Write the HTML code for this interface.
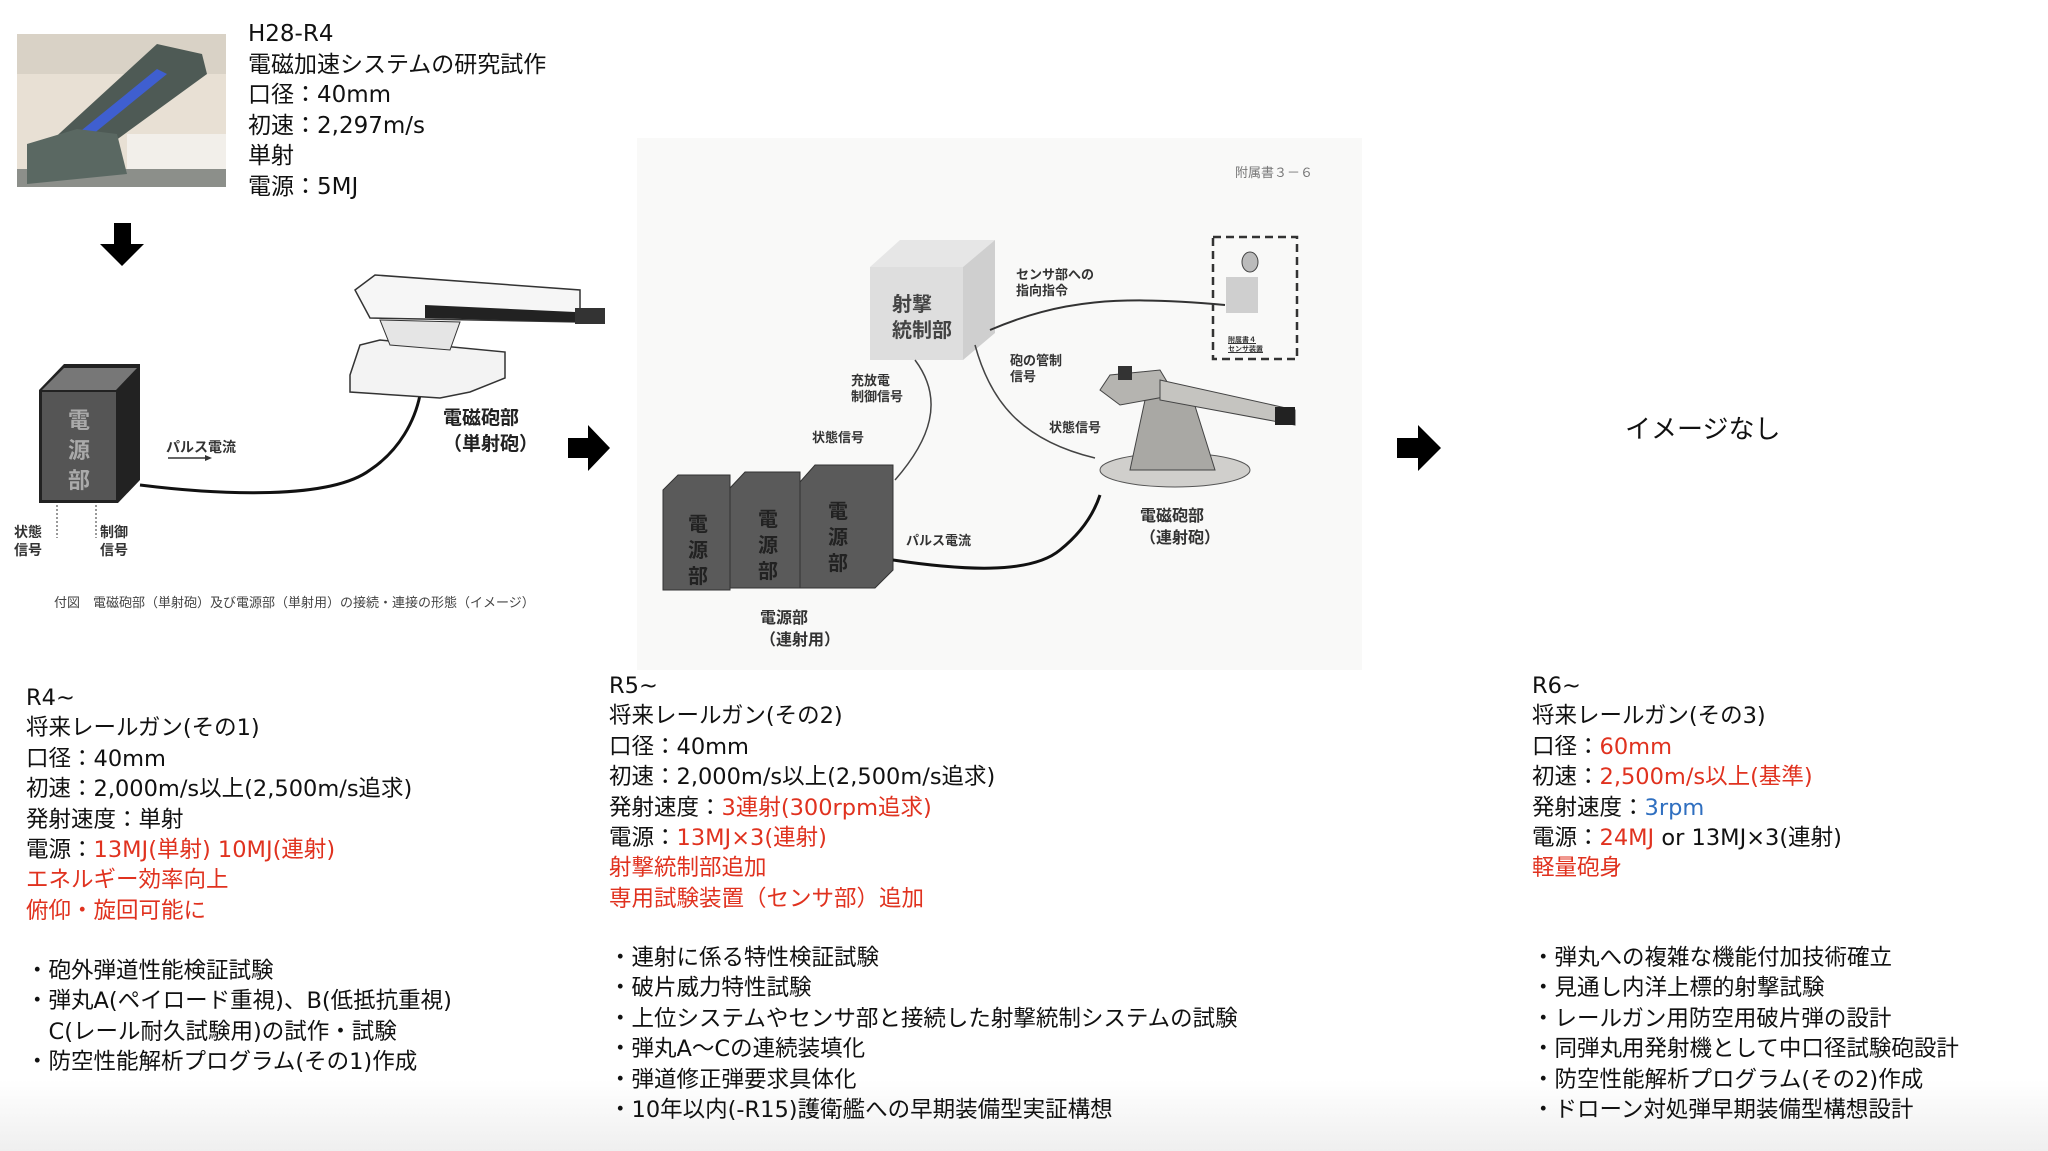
<!DOCTYPE html>
<html><head><meta charset="utf-8">
<style>
html,body{margin:0;padding:0;background:#fff;}
body{width:2048px;height:1151px;position:relative;overflow:hidden;font-family:"DejaVu Sans","Noto Sans CJK JP",sans-serif;color:#111;}
.t{position:absolute;font-size:23px;line-height:30.5px;white-space:nowrap;}
.b{position:absolute;font-size:22.5px;line-height:30.4px;white-space:nowrap;}
.r{color:#e0321f}.bl{color:#2f6fc0}
.s{position:absolute;white-space:nowrap;font-family:"Noto Sans CJK JP",sans-serif;font-weight:bold;color:#333;}
</style></head><body>
<div style="position:absolute;left:0;top:1080px;width:2048px;height:71px;background:linear-gradient(#fff,#efefef);"></div>
<!-- photo -->
<svg style="position:absolute;left:17px;top:34px" width="209" height="153" viewBox="0 0 209 153">
<rect width="209" height="153" fill="#e8e0d4"/>
<rect x="0" y="0" width="209" height="40" fill="#d9d2c6"/>
<rect x="110" y="100" width="99" height="45" fill="#f2efea"/>
<rect x="0" y="135" width="209" height="18" fill="#8c8f8a"/>
<polygon points="20,120 140,10 185,20 190,40 80,120" fill="#4e5a55"/>
<polygon points="60,100 140,35 150,40 70,105" fill="#3f5fd0"/>
<polygon points="10,150 10,110 60,95 100,100 110,140" fill="#5a6862"/>
</svg>
<div class="t" style="left:248px;top:19px">H28-R4<br>電磁加速システムの研究試作<br>口径：40mm<br>初速：2,297m/s<br>単射<br>電源：5MJ</div>
<!-- arrows -->
<svg style="position:absolute;left:0;top:0" width="2048" height="700">
<polygon points="114,223 131,223 131,244 144,244 122,266 100,244 114,244" fill="#000"/>
<polygon points="568,438 588,438 588,425 610,448 588,471 588,458 568,458" fill="#000"/>
<polygon points="1397,438 1418,438 1418,425 1441,448 1418,471 1418,458 1397,458" fill="#000"/>
<!-- left diagram -->
<polygon points="39,390 64,364 140,364 140,480 118,503 39,503" fill="#222"/>
<rect x="42" y="392" width="74" height="108" fill="#555"/>
<polygon points="42,390 64,368 137,368 116,390" fill="#777"/>
<path d="M140,485 C220,495 330,500 370,470 C400,450 415,420 420,395" stroke="#111" stroke-width="3" fill="none"/>
<line x1="168" y1="458" x2="205" y2="458" stroke="#333" stroke-width="1.5"/>
<polygon points="205,455 212,458 205,461" fill="#333"/>
<line x1="57" y1="505" x2="57" y2="538" stroke="#333" stroke-width="1" stroke-dasharray="2,2"/>
<line x1="96" y1="505" x2="96" y2="538" stroke="#333" stroke-width="1" stroke-dasharray="2,2"/>
<polygon points="350,375 360,345 380,340 505,352 505,378 470,392 440,398 350,392" fill="#f3f3f3" stroke="#333" stroke-width="1.5"/>
<polygon points="355,290 375,275 580,290 580,322 370,318" fill="#f6f6f6" stroke="#333" stroke-width="1.5"/>
<polygon points="425,305 575,312 575,322 425,318" fill="#222"/>
<rect x="575" y="308" width="30" height="16" fill="#333"/>
<polygon points="380,320 460,322 450,350 390,345" fill="#e5e5e5" stroke="#333"/>
<!-- middle diagram -->
<rect x="637" y="138" width="725" height="532" fill="#f9f9f8"/>
<polygon points="870,267 900,240 995,240 963,267" fill="#e6e6e6"/>
<polygon points="963,267 995,240 995,333 963,360" fill="#cfcfcf"/>
<rect x="870" y="267" width="93" height="93" fill="#dedede"/>
<rect x="1213" y="237" width="84" height="122" fill="none" stroke="#333" stroke-width="2.5" stroke-dasharray="8,5"/>
<rect x="1226" y="277" width="32" height="36" fill="#cfcfcf"/>
<ellipse cx="1250" cy="262" rx="8" ry="10" fill="#bbb" stroke="#444"/>
<path d="M990,330 C1060,300 1120,295 1225,305" stroke="#333" stroke-width="2" fill="none"/>
<path d="M975,345 C990,400 1020,440 1095,458" stroke="#444" stroke-width="1.5" fill="none"/>
<path d="M915,360 C945,400 930,440 895,480" stroke="#444" stroke-width="1.5" fill="none"/>
<g fill="#5a5a5a" stroke="#333">
<polygon points="663,490 678,475 730,475 730,590 663,590"/>
<polygon points="730,488 745,472 800,472 800,588 730,588"/>
<polygon points="800,482 815,465 893,465 893,570 875,588 800,588"/>
</g>
<path d="M893,560 C960,570 1030,575 1060,550 C1085,530 1095,510 1100,495" stroke="#111" stroke-width="3" fill="none"/>
<ellipse cx="1175" cy="470" rx="75" ry="17" fill="#d0cfcc" stroke="#555"/>
<polygon points="1130,470 1145,400 1190,390 1215,470" fill="#a9a8a4" stroke="#444"/>
<polygon points="1100,390 1110,375 1160,370 1175,395 1120,405" fill="#b5b4b0" stroke="#444"/>
<polygon points="1160,380 1295,410 1295,425 1160,400" fill="#c5c4c0" stroke="#444"/>
<rect x="1118" y="366" width="14" height="14" fill="#333"/>
<rect x="1275" y="407" width="20" height="18" fill="#222"/>
</svg>
<div class="s" style="left:443px;top:404px;font-size:19px;line-height:26px;color:#222">電磁砲部<br>（単射砲）</div>
<div class="s" style="left:166px;top:437px;font-size:14px">パルス電流</div>
<div class="s" style="left:14px;top:523px;font-size:14px;line-height:18px">状態<br>信号</div>
<div class="s" style="left:100px;top:523px;font-size:14px;line-height:18px">制御<br>信号</div>
<div class="s" style="left:68px;top:404px;font-size:22px;line-height:30px;color:#aaa;width:26px">電<br>源<br>部</div>
<div class="s" style="left:54px;top:592px;font-size:13px;color:#444;font-weight:normal">付図　電磁砲部（単射砲）及び電源部（単射用）の接続・連接の形態（イメージ）</div>
<div class="s" style="left:1235px;top:162px;font-size:13px;color:#777;font-weight:normal">附属書３－６</div>
<div class="s" style="left:892px;top:290px;font-size:20px;line-height:26px;color:#444">射撃<br>統制部</div>
<div class="s" style="left:1016px;top:266px;font-size:13px;line-height:16px">センサ部への<br>指向指令</div>
<div class="s" style="left:1010px;top:352px;font-size:13px;line-height:16px">砲の管制<br>信号</div>
<div class="s" style="left:851px;top:372px;font-size:13px;line-height:16px">充放電<br>制御信号</div>
<div class="s" style="left:812px;top:427px;font-size:13px">状態信号</div>
<div class="s" style="left:1049px;top:417px;font-size:13px">状態信号</div>
<div class="s" style="left:906px;top:530px;font-size:13px">パルス電流</div>
<div class="s" style="left:1228px;top:336px;font-size:7px;line-height:9px;text-decoration:underline">附属書４<br>センサ装置</div>
<div class="s" style="left:1140px;top:503px;font-size:16px;line-height:22px">電磁砲部<br>（連射砲）</div>
<div class="s" style="left:760px;top:605px;font-size:16px;line-height:22px">電源部<br>（連射用）</div>
<div class="s" style="left:688px;top:510px;font-size:20px;line-height:26px;color:#222">電<br>源<br>部</div>
<div class="s" style="left:758px;top:505px;font-size:20px;line-height:26px;color:#222">電<br>源<br>部</div>
<div class="s" style="left:828px;top:497px;font-size:20px;line-height:26px;color:#222">電<br>源<br>部</div>
<div class="t" style="left:1625px;top:415px;font-size:26px">イメージなし</div>
<!-- bottom columns -->
<div class="b" style="left:26px;top:683px">R4~<br>将来レールガン(その1)<br>口径：40mm<br>初速：2,000m/s以上(2,500m/s追求)<br>発射速度：単射<br>電源：<span class="r">13MJ(単射) 10MJ(連射)</span><br><span class="r">エネルギー効率向上</span><br><span class="r">俯仰・旋回可能に</span></div>
<div class="b" style="left:26px;top:956px">・砲外弾道性能検証試験<br>・弾丸A(ペイロード重視)、B(低抵抗重視)<br>　C(レール耐久試験用)の試作・試験<br>・防空性能解析プログラム(その1)作成</div>
<div class="b" style="left:609px;top:671px">R5~<br>将来レールガン(その2)<br>口径：40mm<br>初速：2,000m/s以上(2,500m/s追求)<br>発射速度：<span class="r">3連射(300rpm追求)</span><br>電源：<span class="r">13MJ×3(連射)</span><br><span class="r">射撃統制部追加</span><br><span class="r">専用試験装置（センサ部）追加</span></div>
<div class="b" style="left:609px;top:943px">・連射に係る特性検証試験<br>・破片威力特性試験<br>・上位システムやセンサ部と接続した射撃統制システムの試験<br>・弾丸A～Cの連続装填化<br>・弾道修正弾要求具体化<br>・10年以内(-R15)護衛艦への早期装備型実証構想</div>
<div class="b" style="left:1532px;top:671px">R6~<br>将来レールガン(その3)<br>口径：<span class="r">60mm</span><br>初速：<span class="r">2,500m/s以上(基準)</span><br>発射速度：<span class="bl">3rpm</span><br>電源：<span class="r">24MJ</span> or 13MJ×3(連射)<br><span class="r">軽量砲身</span></div>
<div class="b" style="left:1532px;top:943px">・弾丸への複雑な機能付加技術確立<br>・見通し内洋上標的射撃試験<br>・レールガン用防空用破片弾の設計<br>・同弾丸用発射機として中口径試験砲設計<br>・防空性能解析プログラム(その2)作成<br>・ドローン対処弾早期装備型構想設計</div>
</body></html>
